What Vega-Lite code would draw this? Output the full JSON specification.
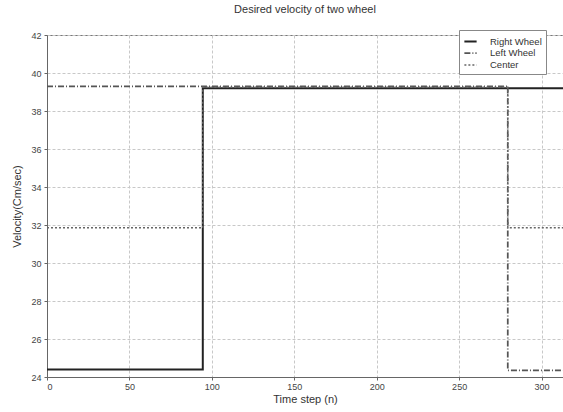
{
  "$schema": "https://vega.github.io/schema/vega-lite/v6.json",
  "width": 516,
  "height": 342,
  "autosize": {"type": "none"},
  "padding": {"left": 47, "top": 35, "right": 0, "bottom": 35},
  "background": "white",
  "config": {
    "font": "Liberation Sans",
    "view": {"stroke": "#777", "strokeWidth": 1},
    "axis": {
      "gridColor": "#c8c8c8",
      "gridDash": [3, 2],
      "gridWidth": 1,
      "domainColor": "#666",
      "tickColor": "#666",
      "tickSize": 3,
      "labelFontSize": 9,
      "labelColor": "#444",
      "titleFontSize": 11,
      "titleFontWeight": "normal",
      "titleColor": "#333"
    }
  },
  "title": {"text": "Desired velocity of two wheel", "fontSize": 11, "fontWeight": "normal", "color": "#333", "offset": 15, "font": "Liberation Sans"},
  "data": {"values": [
    {"s": "Right Wheel", "i": 0, "n": 0, "v": 24.4},
    {"s": "Right Wheel", "i": 1, "n": 94.5, "v": 24.4},
    {"s": "Right Wheel", "i": 2, "n": 94.5, "v": 39.2},
    {"s": "Right Wheel", "i": 3, "n": 313, "v": 39.2},
    {"s": "Left Wheel", "i": 0, "n": 0, "v": 39.3},
    {"s": "Left Wheel", "i": 1, "n": 279.5, "v": 39.3},
    {"s": "Left Wheel", "i": 2, "n": 279.5, "v": 24.35},
    {"s": "Left Wheel", "i": 3, "n": 313, "v": 24.35},
    {"s": "Center", "i": 0, "n": 0, "v": 31.85},
    {"s": "Center", "i": 1, "n": 94.5, "v": 31.85},
    {"s": "Center", "i": 2, "n": 94.5, "v": 39.25},
    {"s": "Center", "i": 3, "n": 279.5, "v": 39.25},
    {"s": "Center", "i": 4, "n": 279.5, "v": 31.85},
    {"s": "Center", "i": 5, "n": 313, "v": 31.85}
  ]},
  "mark": {"type": "line", "clip": true, "interpolate": "linear"},
  "encoding": {
    "x": {"field": "n", "type": "quantitative", "title": "Time step (n)",
      "scale": {"domain": [0, 313], "nice": false, "zero": false},
      "axis": {"values": [0, 50, 100, 150, 200, 250, 300], "titlePadding": 2, "labelPadding": 2}},
    "y": {"field": "v", "type": "quantitative", "title": "Velocity(Cm/sec)",
      "scale": {"domain": [24, 42], "nice": false, "zero": false},
      "axis": {"values": [24, 26, 28, 30, 32, 34, 36, 38, 40, 42], "titlePadding": 8, "labelPadding": 3}},
    "order": {"field": "i", "type": "quantitative"},
    "color": {"field": "s", "type": "nominal",
      "scale": {"domain": ["Right Wheel", "Left Wheel", "Center"], "range": ["#222", "#555", "#666"]},
      "legend": {"title": null, "orient": "none", "legendX": 412, "legendY": -5, "fillColor": "white", "strokeColor": "#888", "padding": 4, "labelFontSize": 9.5, "symbolSize": 150, "symbolStrokeWidth": 1.5, "rowPadding": 0, "labelOffset": 12, "labelColor": "#333", "symbolType": "stroke"}},
    "strokeDash": {"field": "s", "type": "nominal",
      "scale": {"domain": ["Right Wheel", "Left Wheel", "Center"], "range": [[1, 0], [6, 2, 1, 2], [2, 2]]},
      "legend": null},
    "strokeWidth": {"field": "s", "type": "nominal",
      "scale": {"domain": ["Right Wheel", "Left Wheel", "Center"], "range": [2, 1.5, 1.2]},
      "legend": null}
  }
}
